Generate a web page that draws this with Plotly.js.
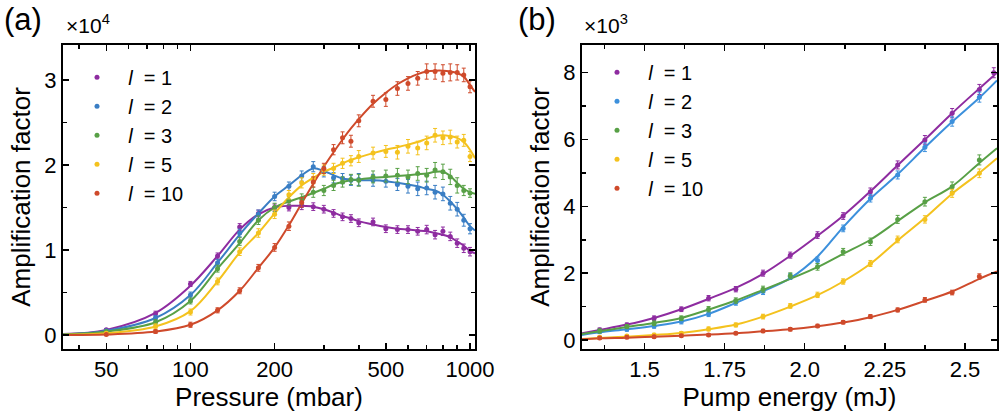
<!DOCTYPE html>
<html>
<head>
<meta charset="utf-8">
<script src="https://cdn.plot.ly/plotly-3.0.1.min.js"></script>
<style>html,body{margin:0;padding:0;background:#fff;}#chart{width:1000px;height:413px;}</style>
</head>
<body>
<div id="chart"></div>
<script>
// ---------- Panel (a): amplification vs pressure ----------
const pressure = [50, 75, 100, 125, 150, 175, 200, 225, 250, 275, 300, 325, 350, 375, 400, 450, 500, 550, 600, 650, 700, 750, 800, 850, 900, 950, 1000];
const ampA_l1  = [600, 2500, 6000, 9300, 12700, 14300, 15000, 15000, 15200, 15100, 14800, 14300, 13900, 13700, 13200, 13300, 12500, 12400, 12400, 12200, 12400, 11800, 12200, 11600, 10800, 10200, 9800];
const ampA_l2  = [500, 2000, 4700, 8500, 12000, 14200, 16300, 17500, 18700, 19800, 19200, 18500, 18400, 18200, 18300, 18200, 18100, 17700, 17500, 17200, 17300, 16800, 16600, 15500, 14800, 13500, 12500];
const ampA_l3  = [400, 1500, 4000, 7800, 11000, 13500, 15000, 15800, 16000, 16800, 17000, 17600, 18000, 18300, 18200, 18600, 18700, 18800, 18600, 19000, 18800, 19400, 19200, 18600, 17600, 17000, 16700];
const ampA_l5  = [200, 1000, 2700, 6300, 9800, 12000, 14200, 16500, 17900, 18400, 19400, 19600, 20200, 20500, 21000, 21400, 21600, 21500, 22200, 22000, 22600, 23500, 23200, 23300, 22700, 22900, 21000];
const ampA_l10 = [50, 400, 1200, 2900, 5200, 7900, 10300, 12800, 15600, 18000, 19600, 21800, 23200, 22800, 25200, 27500, 27700, 29000, 29600, 30200, 31000, 31000, 30800, 30900, 30900, 30600, 29200];
const errA_l1  = [150, 300, 300, 350, 400, 400, 400, 400, 450, 450, 450, 450, 450, 450, 450, 450, 450, 450, 450, 450, 500, 500, 500, 500, 500, 500, 500];
const errA_l2  = [150, 300, 350, 400, 450, 500, 500, 500, 600, 600, 600, 600, 600, 600, 700, 700, 700, 700, 800, 800, 800, 800, 800, 800, 800, 700, 600];
const errA_l3  = [150, 300, 350, 400, 450, 500, 500, 500, 600, 600, 600, 600, 600, 600, 700, 700, 700, 800, 800, 800, 800, 900, 900, 900, 900, 600, 500];
const errA_l5  = [150, 300, 350, 400, 450, 500, 500, 500, 600, 600, 600, 600, 600, 600, 700, 700, 700, 800, 800, 800, 800, 800, 800, 800, 700, 700, 600];
const errA_l10 = [100, 200, 300, 300, 350, 400, 450, 500, 550, 600, 600, 600, 700, 700, 700, 700, 800, 800, 800, 800, 900, 900, 1000, 1000, 900, 800, 700];

const fitPressure = [35, 50, 75, 100, 125, 150, 175, 200, 225, 250, 275, 300, 325, 350, 375, 400, 450, 500, 550, 600, 650, 700, 750, 800, 850, 900, 950, 1000, 1042];
const fitA_l1  = [100, 600, 2600, 5800, 9300, 12400, 14200, 15000, 15200, 15200, 15100, 14800, 14400, 14000, 13700, 13400, 13000, 12700, 12500, 12400, 12300, 12200, 12000, 11800, 11500, 11000, 10500, 9900, 9600];
const fitA_l2  = [80, 500, 2000, 4700, 8500, 11800, 14300, 16300, 17600, 18800, 19600, 19300, 18800, 18400, 18300, 18200, 18200, 18100, 17900, 17700, 17500, 17200, 17000, 16500, 15700, 14800, 13800, 12800, 12300];
const fitA_l3  = [60, 400, 1500, 4000, 7800, 10800, 13500, 15000, 15700, 16200, 16700, 17200, 17700, 18000, 18200, 18300, 18500, 18600, 18700, 18800, 18900, 19000, 19200, 19200, 18700, 17900, 17200, 16800, 16600];
const fitA_l5  = [30, 200, 1000, 2800, 6300, 9700, 12000, 14300, 16200, 17600, 18500, 19200, 19700, 20200, 20600, 20900, 21400, 21800, 22100, 22400, 22700, 23100, 23400, 23500, 23400, 23200, 22700, 21800, 20800];
const fitA_l10 = [0, 50, 400, 1200, 2900, 5200, 7900, 10300, 12900, 15500, 17800, 19800, 21500, 23000, 24300, 25400, 27200, 28500, 29500, 30200, 30700, 31000, 31100, 31100, 31000, 30800, 30400, 29400, 28600];

const pressureTicks = [50, 100, 200, 500, 1000];
const pressureMinor = [40, 60, 70, 80, 90, 300, 400, 600, 700, 800, 900];
const ampATicks = [0, 10000, 20000, 30000];
const ampATickText = ['0', '1', '2', '3'];

// ---------- Panel (b): amplification vs pump energy ----------
const energy = [1.36, 1.445, 1.53, 1.615, 1.70, 1.785, 1.87, 1.955, 2.04, 2.12, 2.205, 2.29, 2.375, 2.46, 2.545, 2.59];
const ampB_l1  = [300, 450, 650, 920, 1250, 1520, 2000, 2540, 3140, 3710, 4440, 5240, 5990, 6790, 7500, 8000];
const ampB_l2  = [250, 320, 420, 550, 780, 1120, 1450, 1900, 2380, 3340, 4240, 4940, 5770, 6540, 7270, null];
const ampB_l3  = [270, 400, 500, 650, 920, 1180, 1520, 1920, 2190, 2640, 2940, 3610, 4140, 4590, 5390, null];
const ampB_l5  = [80, 120, 150, 200, 330, 450, 700, 1020, 1350, 1750, 2290, 3010, 3610, 4390, 4990, null];
const ampB_l10 = [60, 80, 100, 130, 150, 200, 270, 320, 420, 530, 700, 900, 1200, 1420, 1900, null];
const errB_l1  = [60, 60, 70, 70, 80, 80, 90, 90, 100, 100, 110, 120, 130, 140, 150, 150];
const errB_l2  = [60, 60, 70, 70, 80, 80, 90, 90, 100, 100, 110, 120, 130, 140, 150, 0];
const errB_l3  = [60, 60, 70, 70, 80, 80, 90, 90, 100, 100, 110, 120, 130, 140, 150, 0];
const errB_l5  = [40, 40, 50, 50, 60, 60, 70, 70, 80, 80, 90, 100, 110, 120, 130, 0];
const errB_l10 = [40, 40, 40, 40, 40, 40, 50, 50, 50, 50, 60, 60, 70, 70, 80, 0];

const fitEnergy = [1.305, 1.36, 1.445, 1.53, 1.615, 1.70, 1.785, 1.87, 1.955, 2.04, 2.12, 2.205, 2.29, 2.375, 2.46, 2.545, 2.6];
const fitB_l1  = [200, 300, 460, 660, 920, 1230, 1560, 1980, 2520, 3120, 3720, 4450, 5230, 6000, 6790, 7530, 8000];
const fitB_l2  = [150, 230, 320, 420, 550, 780, 1110, 1460, 1850, 2500, 3380, 4230, 4960, 5760, 6530, 7250, 7770];
const fitB_l3  = [180, 260, 390, 510, 660, 910, 1180, 1500, 1830, 2180, 2580, 3000, 3560, 4120, 4600, 5300, 5740];
const fitB_l5  = [30, 60, 100, 150, 210, 320, 460, 700, 1000, 1340, 1750, 2280, 2980, 3650, 4380, 5000, 5440];
const fitB_l10 = [20, 50, 70, 100, 130, 160, 200, 260, 320, 410, 520, 680, 900, 1170, 1450, 1830, 2050];

const energyTicks = [1.5, 1.75, 2.0, 2.25, 2.5];
const energyTickText = ['1.5', '1.75', '2.0', '2.25', '2.5'];
const ampBTicks = [0, 2000, 4000, 6000, 8000];
const ampBTickText = ['0', '2', '4', '6', '8'];

const seriesNames = ['\u00a0\u00a0<i>l</i>\u00a0 = 1', '\u00a0\u00a0<i>l</i>\u00a0 = 2', '\u00a0\u00a0<i>l</i>\u00a0 = 3', '\u00a0\u00a0<i>l</i>\u00a0 = 5', '\u00a0\u00a0<i>l</i>\u00a0 = 10'];
const colorsA = ['#8E2CA0', '#3A7EC4', '#58A046', '#F4C21E', '#CF4A2B'];
const colorsB = ['#8E2CA0', '#3C90DC', '#58A046', '#F4C21E', '#CF4A2B'];

// ---------- Build traces ----------
const traces = [];
const fitsA = [fitA_l1, fitA_l2, fitA_l3, fitA_l5, fitA_l10];
const dataA = [ampA_l1, ampA_l2, ampA_l3, ampA_l5, ampA_l10];
const errsA = [errA_l1, errA_l2, errA_l3, errA_l5, errA_l10];
const fitsB = [fitB_l1, fitB_l2, fitB_l3, fitB_l5, fitB_l10];
const dataB = [ampB_l1, ampB_l2, ampB_l3, ampB_l5, ampB_l10];
const errsB = [errB_l1, errB_l2, errB_l3, errB_l5, errB_l10];

for (let i = 0; i < 5; i++) {
  traces.push({x: fitPressure, y: fitsA[i], xaxis: 'x', yaxis: 'y', mode: 'lines',
    line: {color: colorsA[i], width: 2, shape: 'spline', smoothing: 1}, showlegend: false, hoverinfo: 'skip'});
}
for (let i = 0; i < 5; i++) {
  traces.push({x: pressure, y: dataA[i], xaxis: 'x', yaxis: 'y', mode: 'markers', name: seriesNames[i], legend: 'legend',
    marker: {color: colorsA[i], size: 5}, error_y: {type: 'data', array: errsA[i], color: colorsA[i], thickness: 1, width: 2}});
}
for (let i = 0; i < 5; i++) {
  traces.push({x: fitEnergy, y: fitsB[i], xaxis: 'x2', yaxis: 'y2', mode: 'lines',
    line: {color: colorsB[i], width: 2, shape: 'spline', smoothing: 1}, showlegend: false, hoverinfo: 'skip'});
}
for (let i = 0; i < 5; i++) {
  traces.push({x: energy, y: dataB[i], xaxis: 'x2', yaxis: 'y2', mode: 'markers', name: seriesNames[i], legend: 'legend2',
    marker: {color: colorsB[i], size: 5}, error_y: {type: 'data', array: errsB[i], color: colorsB[i], thickness: 1, width: 2}});
}

const axisCommon = {
  ticks: 'inside', ticklen: 6, tickwidth: 1.5, tickcolor: '#000',
  showline: true, linewidth: 2, linecolor: '#000', mirror: 'allticks',
  showgrid: false, zeroline: false, automargin: false,
  tickfont: {size: 22, color: '#000'}
};

const layout = {
  width: 1000, height: 413,
  margin: {l: 0, r: 0, t: 0, b: 0},
  paper_bgcolor: '#fff', plot_bgcolor: '#fff',
  font: {family: 'Liberation Sans, Arial, sans-serif', color: '#000'},
  xaxis: Object.assign({}, axisCommon, {
    domain: [0.063, 0.475], anchor: 'y', type: 'log',
    range: [Math.log10(35), Math.log10(1042)],
    tickmode: 'array', tickvals: pressureTicks, ticktext: pressureTicks.map(String),
    minor: {tickmode: 'array', tickvals: pressureMinor, ticks: 'inside', ticklen: 4, tickwidth: 1.5, tickcolor: '#000', showgrid: false},
    title: {text: 'Pressure (mbar)', font: {size: 26}, standoff: 4}
  }),
  yaxis: Object.assign({}, axisCommon, {
    domain: [0.155, 0.891], anchor: 'x',
    range: [-1650, 34120],
    tickmode: 'array', tickvals: ampATicks, ticktext: ampATickText,
    minor: {dtick: 5000, ticks: 'inside', ticklen: 4, tickwidth: 1.5, tickcolor: '#000', showgrid: false},
    title: {text: 'Amplification factor', font: {size: 26}, standoff: 6}
  }),
  xaxis2: Object.assign({}, axisCommon, {
    domain: [0.582, 0.997], anchor: 'y2',
    range: [1.305, 2.6],
    tickmode: 'array', tickvals: energyTicks, ticktext: energyTickText,
    minor: {dtick: 0.125, tick0: 1.5, ticks: 'inside', ticklen: 4, tickwidth: 1.5, tickcolor: '#000', showgrid: false},
    title: {text: 'Pump energy (mJ)', font: {size: 26}, standoff: 4}
  }),
  yaxis2: Object.assign({}, axisCommon, {
    domain: [0.155, 0.891], anchor: 'x2',
    range: [-270, 8830],
    tickmode: 'array', tickvals: ampBTicks, ticktext: ampBTickText,
    minor: {dtick: 1000, ticks: 'inside', ticklen: 4, tickwidth: 1.5, tickcolor: '#000', showgrid: false},
    title: {text: 'Amplification factor', font: {size: 26}, standoff: 6}
  }),
  legend: {x: 0.077, y: 0.86, xanchor: 'left', yanchor: 'top', bgcolor: 'rgba(0,0,0,0)',
    font: {size: 20, color: '#000'}, tracegroupgap: 0},
  legend2: {x: 0.597, y: 0.872, xanchor: 'left', yanchor: 'top', bgcolor: 'rgba(0,0,0,0)',
    font: {size: 20, color: '#000'}, tracegroupgap: 0},
  annotations: [
    {xref: 'paper', yref: 'paper', x: 0.002, y: 1 - 20/413, xanchor: 'left', yanchor: 'middle', text: '(a)', showarrow: false, font: {size: 31}},
    {xref: 'paper', yref: 'paper', x: 0.064, y: 1 - 24/413, xanchor: 'left', yanchor: 'middle', text: '×10<sup>4</sup>', showarrow: false, font: {size: 21}},
    {xref: 'paper', yref: 'paper', x: 0.516, y: 1 - 20/413, xanchor: 'left', yanchor: 'middle', text: '(b)', showarrow: false, font: {size: 31}},
    {xref: 'paper', yref: 'paper', x: 0.582, y: 1 - 24/413, xanchor: 'left', yanchor: 'middle', text: '×10<sup>3</sup>', showarrow: false, font: {size: 21}}
  ]
};

Plotly.newPlot('chart', traces, layout, {staticPlot: true, displayModeBar: false});
</script>
</body>
</html>
